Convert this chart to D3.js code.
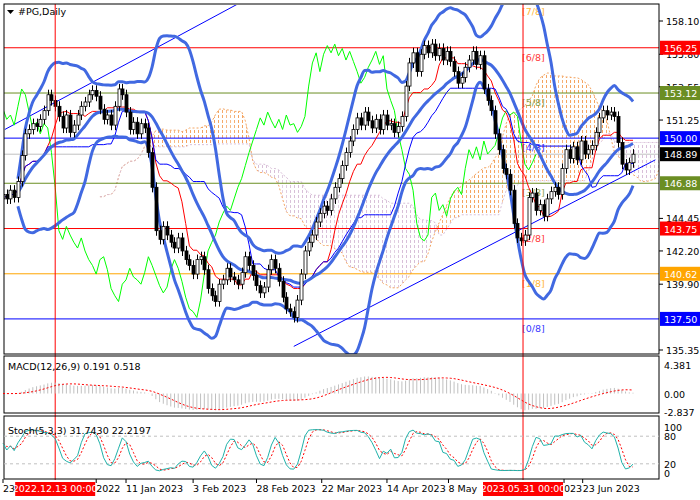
<!DOCTYPE html>
<html><head><meta charset="utf-8">
<script src="https://cdn.jsdelivr.net/npm/d3@7"></script>
<style>body{margin:0;background:#fff}text{font-family:"DejaVu Sans",sans-serif;font-size:9.5px}</style>
</head><body><div id="chart"></div>
<script>
// daily closes
const closes = [
  146.1,145.8,146.4,145.9,147.0,148.8,150.3,150.6,151.0,150.8,
  151.3,151.9,153.0,152.6,152.2,151.5,150.7,151.6,150.4,150.9,
  151.6,152.2,152.5,153.0,153.3,152.9,152.0,151.3,151.6,150.9,
  152.2,153.4,153.0,151.8,150.6,151.1,150.3,151.0,150.7,149.0,
  146.6,143.6,143.0,143.9,143.3,142.8,142.4,143.1,142.2,141.6,
  141.2,140.6,141.6,141.8,140.9,139.6,139.1,138.7,139.9,140.2,
  141.0,140.4,140.2,139.9,140.7,141.8,141.2,140.5,139.8,139.3,
  139.7,140.9,141.6,141.0,140.1,139.0,138.2,138.0,137.6,138.8,
  140.6,142.2,142.8,143.3,144.2,144.8,145.3,145.0,145.8,146.6,
  147.2,148.1,149.0,149.8,150.6,151.4,150.9,151.8,151.2,150.7,
  151.3,150.6,151.6,150.9,151.0,150.4,150.8,151.5,153.6,155.2,
  155.9,154.6,155.8,156.4,155.9,156.5,155.7,156.2,155.4,156.0,
  155.3,154.6,153.8,154.2,154.9,155.4,156.0,155.1,155.7,153.4,
  152.6,151.9,150.3,149.2,147.9,147.5,146.4,144.1,143.1,142.9,
  143.3,145.9,146.2,145.0,145.4,144.6,145.8,146.3,146.6,146.1,
  147.9,149.2,148.6,149.4,148.5,149.8,148.9,149.2,149.5,150.4,
  151.4,151.9,151.6,151.8,151.5,149.7,148.2,147.8,148.3,148.89
];
// visible parts of the time labels (others hidden under the red date boxes)
const tickIdx = [0, 25, 33, 51, 68, 85.5, 103, 119.5, 150.5, 155.5];
const tickLabels = ["23","2022","11 Jan 2023","3 Feb 2023","28 Feb 2023","22 Mar 2023","14 Apr 2023","8 May","023","23 Jun 2023"];
const markerIdx = [14, 139.5];
const markerLabels = ["2022.12.13 00:00", "2023.05.31 00:00"];
const murrey = [137.50,140.62,143.75,146.88,150.00,153.12,156.25,159.38];
const murreyColors = ["#0000ff","#ffa500","#ff0000","#6b8e23","#0000ff","#6b8e23","#ff0000","#ffa500"];
const priceTicks = [158.10,155.80,153.55,151.25,144.45,142.20,139.90,135.35];
const lastPrice = 148.89;
const trendUpper = [[0.5,150.6],[63.5,159.35]];
const trendLower = [[78,135.6],[175,148.5]];
const macdTicks = [4.381, 0, -2.837];
const stochTicks = [100, 80, 20, 0];

const W = 700, H = 500, L = 4, R = 659;
const svg = d3.select("#chart").append("svg").attr("width", W).attr("height", H);
const n = closes.length;
const x = d3.scaleLinear().domain([0, n - 1]).range([3, 633]);
const y = d3.scaleLinear().domain([135.35, 158.10]).range([350, 21]);

const opens = closes.map((c, i) => i ? closes[i - 1] : c - 0.3);
const highs = closes.map((c, i) => Math.max(c, opens[i]) + 0.35);
const lows = closes.map((c, i) => Math.min(c, opens[i]) - 0.35);

function hl(i, p) { const s = Math.max(0, i - p + 1); return (d3.max(highs.slice(s, i + 1)) + d3.min(lows.slice(s, i + 1))) / 2; }
const tenkan = closes.map((c, i) => hl(i, 9));
const kijun = closes.map((c, i) => hl(i, 26));
const spanA = [], spanB = [];
for (let i = 0; i < n; i++) { spanA.push([i + 26, (tenkan[i] + kijun[i]) / 2]); spanB.push([i + 26, hl(i, 52)]); }
const bb = closes.map((c, i) => {
  if (i < 4) return null;
  const w = closes.slice(Math.max(0, i - 19), i + 1), m = d3.mean(w), sd = Math.sqrt(d3.mean(w, v => (v - m) ** 2));
  return { i, m, u: m + 2.2 * sd, l: m - 2.2 * sd };
}).filter(d => d);

// defs
const defs = svg.append("defs");
defs.append("clipPath").attr("id", "mainClip").append("rect").attr("x", L).attr("y", 5).attr("width", R - L).attr("height", 349);
[["hatchUp", "#f4a460"], ["hatchDn", "#d8bfd8"]].forEach(([id, col]) => {
  const p = defs.append("pattern").attr("id", id).attr("patternUnits", "userSpaceOnUse").attr("width", 4).attr("height", 5);
  p.append("rect").attr("x", 2).attr("y", 0).attr("width", 1).attr("height", 3).attr("fill", col);
});

const main = svg.append("g").attr("clip-path", "url(#mainClip)");

// cloud
for (let k = 0; k < n - 1; k++) {
  const a0 = spanA[k], a1 = spanA[k + 1], b0 = spanB[k], b1 = spanB[k + 1];
  const up = (a0[1] + a1[1]) >= (b0[1] + b1[1]);
  main.append("path")
    .attr("d", `M${x(a0[0])},${y(a0[1])}L${x(a1[0])},${y(a1[1])}L${x(b1[0])},${y(b1[1])}L${x(b0[0])},${y(b0[1])}Z`)
    .attr("fill", up ? "url(#hatchUp)" : "url(#hatchDn)");
}
const line = d3.line().x(d => x(d[0])).y(d => y(d[1]));
main.append("path").attr("d", line(spanA)).attr("fill", "none").attr("stroke", "#f4a460").attr("stroke-dasharray", "2,2");
main.append("path").attr("d", line(spanB)).attr("fill", "none").attr("stroke", "#d8bfd8").attr("stroke-dasharray", "2,2");

// murrey levels
murrey.forEach((v, i) => {
  main.append("line").attr("x1", L).attr("x2", R).attr("y1", y(v)).attr("y2", y(v)).attr("stroke", murreyColors[i]);
  main.append("text").attr("x", 522).attr("y", y(v) + 13).attr("fill", murreyColors[i]).attr("opacity", 0.8).text(`[${i}/8]`);
});
main.append("line").attr("x1", L).attr("x2", R).attr("y1", y(lastPrice)).attr("y2", y(lastPrice)).attr("stroke", "#c0c0c0");

// markers
markerIdx.forEach(m => svg.append("line").attr("x1", x(m)).attr("x2", x(m)).attr("y1", 4).attr("y2", 480).attr("stroke", "#ff0000"));

// trend lines
[trendUpper, trendLower].forEach(t => main.append("path").attr("d", line(t)).attr("stroke", "#0000ff").attr("fill", "none"));

// chikou, tenkan, kijun
main.append("path").attr("d", line(closes.map((c, i) => [i - 26, c]))).attr("fill", "none").attr("stroke", "#00ff00");
main.append("path").attr("d", line(tenkan.map((v, i) => [i, v]))).attr("fill", "none").attr("stroke", "#ff0000");
main.append("path").attr("d", line(kijun.map((v, i) => [i, v]))).attr("fill", "none").attr("stroke", "#0000ff");

// bollinger
["u", "m", "l"].forEach(k => main.append("path").attr("d", d3.line().curve(d3.curveMonotoneX).x(d => x(d.i)).y(d => y(d[k]))(bb))
  .attr("fill", "none").attr("stroke", "#4169e1").attr("stroke-width", 3));

// candles
closes.forEach((c, i) => {
  const o = opens[i], cx = Math.round(x(i)) + 0.5;
  main.append("line").attr("x1", cx).attr("x2", cx).attr("y1", y(highs[i])).attr("y2", y(lows[i])).attr("stroke", "#000");
  const top = y(Math.max(o, c)), h = Math.max(1, Math.abs(y(o) - y(c)));
  main.append("rect").attr("x", cx - 1.5).attr("y", top).attr("width", 3).attr("height", h)
    .attr("fill", c >= o ? "#fff" : "#000").attr("stroke", "#000").attr("stroke-width", 0.8);
});

// panels borders
const panels = [[4, 354], [356, 413], [416, 479]];
panels.forEach(([t, b]) => svg.append("rect").attr("x", L).attr("y", t).attr("width", R - L).attr("height", b - t).attr("fill", "none").attr("stroke", "#000"));

svg.append("path").attr("d", "M7,10L14,10L10.5,14Z").attr("fill", "#000");
svg.append("text").attr("x", 18).attr("y", 15).text("#PG,Daily");

// price axis
priceTicks.forEach(v => {
  svg.append("line").attr("x1", R).attr("x2", R + 4).attr("y1", y(v)).attr("y2", y(v)).attr("stroke", "#000");
  svg.append("text").attr("x", 666).attr("y", y(v) + 4).text(v.toFixed(2));
});
const tags = murrey.slice(0, 7).map((v, i) => [v, murreyColors[i]]).concat([[lastPrice, "#000"]]);
tags.forEach(([v, col]) => {
  svg.append("rect").attr("x", R + 1).attr("y", y(v) - 7).attr("width", 40).attr("height", 14).attr("fill", col);
  svg.append("text").attr("x", 664).attr("y", y(v) + 4).attr("fill", "#fff").text(v.toFixed(2));
});

// MACD
const ema = (arr, p) => { const k = 2 / (p + 1); let e = arr[0]; return arr.map(v => (e = v * k + e * (1 - k))); };
const e12 = ema(closes, 12), e26 = ema(closes, 26);
const macd = closes.map((c, i) => e12[i] - e26[i]);
const signal = macd.map((v, i) => d3.mean(macd.slice(Math.max(0, i - 8), i + 1)));
const ym = d3.scaleLinear().domain([-2.837, 4.381]).range([412, 365]);
macd.forEach((v, i) => svg.append("line").attr("x1", x(i)).attr("x2", x(i)).attr("y1", ym(0)).attr("y2", ym(v)).attr("stroke", "#c0c0c0"));
svg.append("path").attr("d", d3.line().x((d, i) => x(i)).y(d => ym(d))(signal)).attr("fill", "none").attr("stroke", "#ff0000").attr("stroke-dasharray", "2,2");
svg.append("text").attr("x", 8).attr("y", 370).text("MACD(12,26,9) 0.191 0.518");
macdTicks.forEach(v => svg.append("text").attr("x", 664).attr("y", ym(v) + 4).text(v === 0 ? "0.00" : v.toFixed(3)));

// Stochastic 5,3,3
const rawK = closes.map((c, i) => {
  const s = Math.max(0, i - 4);
  const hh = d3.max(highs.slice(s, i + 1)), ll = d3.min(lows.slice(s, i + 1));
  return { num: c - ll, den: hh - ll };
});
const kLine = rawK.map((d, i) => { const w = rawK.slice(Math.max(0, i - 2), i + 1); return 100 * d3.sum(w, q => q.num) / d3.sum(w, q => q.den); });
const dLine = kLine.map((v, i) => d3.mean(kLine.slice(Math.max(0, i - 2), i + 1)));
const ys = d3.scaleLinear().domain([0, 100]).range([473, 427]);
[80, 20].forEach(v => svg.append("line").attr("x1", L).attr("x2", R).attr("y1", ys(v)).attr("y2", ys(v)).attr("stroke", "#c0c0c0").attr("stroke-dasharray", "3,3"));
svg.append("path").attr("d", d3.line().x((d, i) => x(i)).y(d => ys(d))(dLine)).attr("fill", "none").attr("stroke", "#ff0000").attr("stroke-dasharray", "2,2");
svg.append("path").attr("d", d3.line().x((d, i) => x(i)).y(d => ys(d))(kLine)).attr("fill", "none").attr("stroke", "#20b2aa");
svg.append("text").attr("x", 8).attr("y", 434).text("Stoch(5,3,3) 31.7430 22.2197");
stochTicks.forEach(v => svg.append("text").attr("x", 664).attr("y", ys(v) + 4).text(v));

// time axis
tickIdx.forEach((t, i) => {
  svg.append("line").attr("x1", x(t)).attr("x2", x(t)).attr("y1", 479).attr("y2", 483).attr("stroke", "#000");
  svg.append("text").attr("x", x(t)).attr("y", 492).text(tickLabels[i]);
});
markerIdx.forEach((m, i) => {
  svg.append("rect").attr("x", x(m) - 40).attr("y", 482).attr("width", 80).attr("height", 14).attr("fill", "#ff0000");
  svg.append("text").attr("x", x(m)).attr("y", 492).attr("text-anchor", "middle").attr("fill", "#fff").text(markerLabels[i]);
});
</script></body></html>
